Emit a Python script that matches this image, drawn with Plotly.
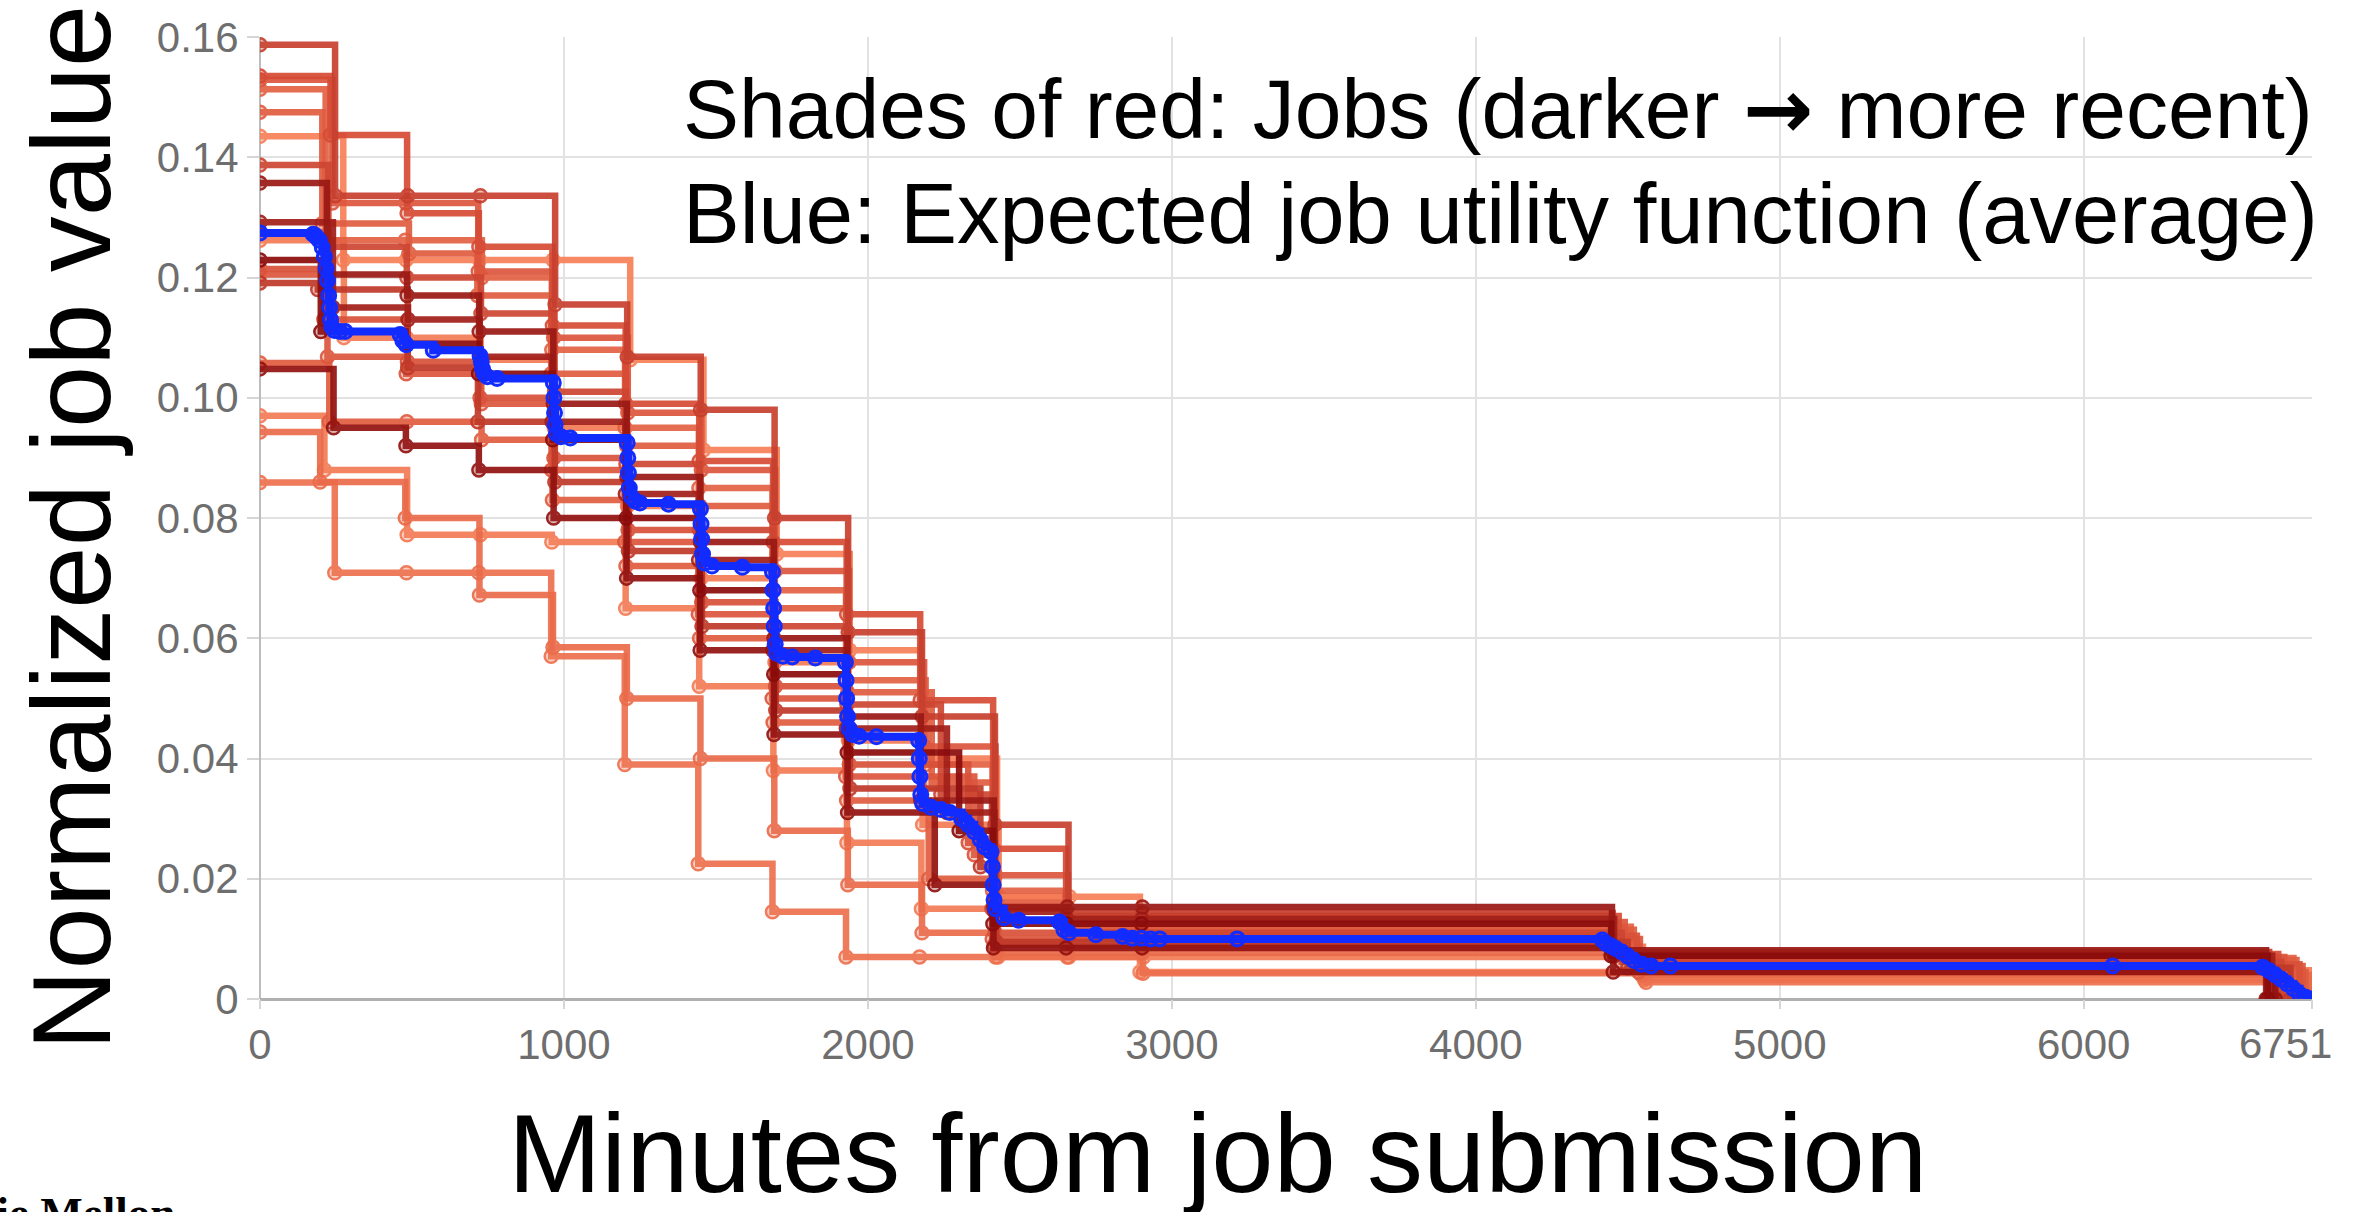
import plotly.graph_objects as go

# ---------------------------------------------------------------------------
# Per-job value curves (minutes from submission -> normalized job value).
# job_recency: 0 = oldest job, 1 = most recent job (drives the red shade).
# ---------------------------------------------------------------------------
job01_minutes = [0, 247, 486, 725, 971, 1208, 1450, 1693, 1935, 2178, 2418, 2660, 2905, 4450, 6610]
job01_value = [0.1587, 0.1336, 0.1336, 0.1336, 0.1155, 0.1068, 0.0980, 0.0800, 0.0610, 0.0470, 0.0290, 0.0143, 0.0143, 0.0078, 0.0]

job02_minutes = [0, 232, 484, 720, 962, 1203, 1445, 1688, 1930, 2172, 2412, 2652, 2900, 4470, 6640]
job02_value = [0.1535, 0.1437, 0.1307, 0.1251, 0.1120, 0.0990, 0.0895, 0.0760, 0.0640, 0.0497, 0.0250, 0.0138, 0.0138, 0.0075, 0.0]

job03_minutes = [0, 238, 480, 718, 966, 1210, 1452, 1695, 1938, 2185, 2420, 2658, 2902, 4490, 6660]
job03_value = [0.1529, 0.1324, 0.1324, 0.1210, 0.1100, 0.0975, 0.0880, 0.0712, 0.0560, 0.0420, 0.0206, 0.0128, 0.0128, 0.0070, 0.0]

job04_minutes = [0, 216, 478, 730, 960, 1201, 1444, 1686, 1928, 2190, 2410, 2650, 2898, 4510, 6690]
job04_value = [0.1513, 0.1262, 0.1262, 0.1200, 0.1080, 0.0950, 0.0850, 0.0680, 0.0530, 0.0390, 0.0180, 0.0120, 0.0120, 0.0068, 0.0]

job05_minutes = [0, 205, 490, 715, 958, 1206, 1448, 1692, 1934, 2210, 2415, 2655, 2900, 4520, 6700]
job05_value = [0.1475, 0.1290, 0.1240, 0.1170, 0.1040, 0.0920, 0.0820, 0.0650, 0.0510, 0.0360, 0.0160, 0.0115, 0.0115, 0.0065, 0.0]

job06_minutes = [0, 274, 481, 722, 964, 1218, 1459, 1700, 1940, 2175, 2425, 2663, 2895, 4555, 6751]
job06_value = [0.1435, 0.1229, 0.1229, 0.1229, 0.1229, 0.1063, 0.0913, 0.0740, 0.0580, 0.0400, 0.0170, 0.0170, 0.0045, 0.0032, 0.0]

job07_minutes = [0, 225, 483, 727, 969, 1204, 1446, 1689, 1931, 2240, 2408, 2651, 2899, 4480, 6650]
job07_value = [0.1387, 0.1251, 0.1200, 0.1140, 0.1010, 0.0890, 0.0780, 0.0620, 0.0490, 0.0340, 0.0150, 0.0110, 0.0110, 0.0062, 0.0]

job08_minutes = [0, 220, 484, 721, 965, 1207, 1449, 1691, 1933, 2174, 2414, 2656, 2903, 4448, 6600]
job08_value = [0.1357, 0.1205, 0.1170, 0.1110, 0.0990, 0.0868, 0.0760, 0.0600, 0.0470, 0.0330, 0.0153, 0.0153, 0.0153, 0.0081, 0.0]

job09_minutes = [0, 240, 487, 723, 961, 1202, 1443, 1687, 1929, 2260, 2417, 2654, 2901, 4455, 6620]
job09_value = [0.1292, 0.1150, 0.1130, 0.1068, 0.0960, 0.0840, 0.0730, 0.0580, 0.0450, 0.0310, 0.0145, 0.0133, 0.0133, 0.0072, 0.0]

job10_minutes = [0, 276, 482, 726, 968, 1209, 1451, 1694, 1936, 2180, 2430, 2660, 2908, 4550, 6751]
job10_value = [0.1262, 0.1100, 0.1100, 0.1063, 0.0950, 0.0820, 0.0700, 0.0560, 0.0430, 0.0290, 0.0170, 0.0110, 0.0087, 0.0048, 0.0]

job11_minutes = [0, 200, 479, 719, 963, 1205, 1447, 1690, 1932, 2300, 2411, 2653, 2900, 4445, 6605]
job11_value = [0.1229, 0.1110, 0.1090, 0.1040, 0.0930, 0.0800, 0.0680, 0.0540, 0.0410, 0.0280, 0.0125, 0.0125, 0.0125, 0.0072, 0.0]

job12_minutes = [0, 210, 485, 724, 967, 1211, 1453, 1696, 1939, 2330, 2419, 2657, 2904, 4530, 6710]
job12_value = [0.1214, 0.1130, 0.1060, 0.1000, 0.0900, 0.0780, 0.0660, 0.0520, 0.0390, 0.0260, 0.0110, 0.0105, 0.0105, 0.0058, 0.0]

job13_minutes = [0, 222, 481, 728, 959, 1200, 1442, 1685, 1927, 2350, 2409, 2650, 2897, 4540, 6720]
job13_value = [0.1205, 0.1068, 0.1040, 0.0990, 0.0880, 0.0760, 0.0640, 0.0500, 0.0370, 0.0240, 0.0100, 0.0100, 0.0100, 0.0055, 0.0]

job14_minutes = [0, 190, 486, 717, 970, 1212, 1454, 1697, 1941, 2370, 2422, 2662, 2906, 4500, 6680]
job14_value = [0.1191, 0.1180, 0.1050, 0.0960, 0.0860, 0.0745, 0.0620, 0.0480, 0.0350, 0.0220, 0.0095, 0.0095, 0.0095, 0.0052, 0.0]

job15_minutes = [0, 228, 483, 729, 962, 1204, 1446, 1688, 1930, 2200, 2416, 2655, 2900, 4535, 6730]
job15_value = [0.1058, 0.0960, 0.0960, 0.0930, 0.0830, 0.0720, 0.0600, 0.0460, 0.0330, 0.0200, 0.0090, 0.0088, 0.0088, 0.0045, 0.0]

job16_minutes = [0, 242, 480, 720, 966, 1206, 1448, 1691, 1933, 2220, 2413, 2652, 2902, 4452, 6630]
job16_value = [0.1048, 0.0950, 0.0920, 0.0880, 0.0800, 0.0700, 0.0580, 0.0440, 0.0310, 0.0190, 0.0085, 0.0085, 0.0085, 0.0045, 0.0]

job17_minutes = [0, 212, 484, 725, 960, 1203, 1445, 1689, 1931, 2176, 2428, 2661, 2907, 4560, 6751]
job17_value = [0.0970, 0.0880, 0.0772, 0.0772, 0.0760, 0.0650, 0.0520, 0.0380, 0.0260, 0.0150, 0.0070, 0.0070, 0.0070, 0.0035, 0.0]

job18_minutes = [0, 198, 478, 722, 964, 1207, 1449, 1692, 1934, 2178, 2424, 2658, 2903, 4545, 6740]
job18_value = [0.0943, 0.0860, 0.0800, 0.0672, 0.0585, 0.0500, 0.0400, 0.0280, 0.0190, 0.0110, 0.0077, 0.0077, 0.0077, 0.0040, 0.0]

job19_minutes = [0, 246, 482, 720, 958, 1200, 1442, 1686, 1928, 2170, 2420, 2656, 2905, 4560, 6751]
job19_value = [0.0859, 0.0709, 0.0709, 0.0709, 0.0570, 0.0390, 0.0225, 0.0145, 0.0070, 0.0070, 0.0070, 0.0070, 0.0043, 0.0028, 0.0]

job_recency = [0.60, 0.50, 0.40, 0.30, 0.35, 0.00, 0.55, 0.90, 0.85, 0.05,
               1.00, 0.45, 0.40, 0.65, 0.35, 0.95, 0.05, 0.20, 0.15]

# Expected (average) job utility function
expected_minutes = [0, 175, 185, 195, 205, 212, 218, 222, 226, 229, 232, 236, 245, 263, 280,
                    461, 470, 481, 570, 724, 728, 732, 738, 748, 780, 965, 967, 969, 971, 975,
                    990, 1021, 1208, 1210, 1212, 1215, 1222, 1235, 1250, 1344, 1449, 1451, 1453,
                    1456, 1462, 1487, 1587, 1686, 1688, 1690, 1692, 1695, 1700, 1720, 1751, 1827,
                    1926, 1928, 1930, 1933, 1938, 1950, 1971, 2028, 2167, 2169, 2171, 2174, 2180,
                    2207, 2240, 2270, 2308, 2330, 2350, 2370, 2384, 2405, 2410, 2412, 2415, 2420,
                    2447, 2496, 2630, 2645, 2661, 2750, 2838, 2870, 2900, 2930, 2960, 3215, 4416,
                    4430, 4445, 4460, 4480, 4500, 4520, 4545, 4577, 4640, 6095, 6589, 6610, 6630,
                    6650, 6670, 6690, 6710, 6730, 6751]
expected_value = [0.1274, 0.1272, 0.1268, 0.1262, 0.1250, 0.1235, 0.1215, 0.1195, 0.1170, 0.1150,
                  0.1130, 0.1118, 0.1112, 0.1110, 0.1110, 0.1105, 0.1095, 0.1088, 0.1079, 0.1070,
                  0.1060, 0.1048, 0.1040, 0.1035, 0.1032, 0.1025, 0.1000, 0.0975, 0.0955, 0.0940,
                  0.0935, 0.0933, 0.0925, 0.0900, 0.0875, 0.0850, 0.0835, 0.0828, 0.0825, 0.0823,
                  0.0815, 0.0790, 0.0765, 0.0740, 0.0725, 0.0720, 0.0718, 0.0710, 0.0680, 0.0650,
                  0.0620, 0.0590, 0.0575, 0.0570, 0.0569, 0.0567, 0.0560, 0.0530, 0.0500, 0.0470,
                  0.0450, 0.0440, 0.0437, 0.0436, 0.0430, 0.0400, 0.0370, 0.0340, 0.0325, 0.0319,
                  0.0315, 0.0310, 0.0300, 0.0290, 0.0278, 0.0265, 0.0253, 0.0245, 0.0220, 0.0190,
                  0.0165, 0.0150, 0.0135, 0.0131, 0.0128, 0.0115, 0.0110, 0.0107, 0.0104, 0.0101,
                  0.0101, 0.0100, 0.0100, 0.0100, 0.0098, 0.0092, 0.0088, 0.0084, 0.0078, 0.0071,
                  0.0064, 0.0058, 0.0055, 0.0055, 0.0055, 0.0053, 0.0047, 0.0040, 0.0033, 0.0025,
                  0.0017, 0.0008, 0.0003, 0.0]

x_tick_vals = [0, 1000, 2000, 3000, 4000, 5000, 6000, 6751]
x_tick_text = ["0", "1000", "2000", "3000", "4000", "5000", "6000", "6751"]
y_tick_vals = [0, 0.02, 0.04, 0.06, 0.08, 0.10, 0.12, 0.14, 0.16]
y_tick_text = ["0", "0.02", "0.04", "0.06", "0.08", "0.10", "0.12", "0.14", "0.16"]

jobs = [
    (job01_minutes, job01_value), (job02_minutes, job02_value), (job03_minutes, job03_value),
    (job04_minutes, job04_value), (job05_minutes, job05_value), (job06_minutes, job06_value),
    (job07_minutes, job07_value), (job08_minutes, job08_value), (job09_minutes, job09_value),
    (job10_minutes, job10_value), (job11_minutes, job11_value), (job12_minutes, job12_value),
    (job13_minutes, job13_value), (job14_minutes, job14_value), (job15_minutes, job15_value),
    (job16_minutes, job16_value), (job17_minutes, job17_value), (job18_minutes, job18_value),
    (job19_minutes, job19_value),
]

# ---------------------------------------------------------------------------
# Styling helpers
# ---------------------------------------------------------------------------
LIGHT = (247, 128, 88)
MID = (214, 76, 54)
DARK = (139, 12, 12)


def shade(r):
    """Red shade for a recency in [0, 1]: light coral (old) -> dark red (recent)."""
    if r <= 0.5:
        a, b, t = LIGHT, MID, r / 0.5
    else:
        a, b, t = MID, DARK, (r - 0.5) / 0.5
    return tuple(round(a[i] + (b[i] - a[i]) * t) for i in range(3))


FONT = "Liberation Sans, Arial, Helvetica, sans-serif"
TICK_FONT = dict(family=FONT, size=42, color="#6e6e6e")

# The last tick sits on the right edge of the page, so its label is drawn
# right-aligned to that tick instead of centred on it.
last_tick = x_tick_vals[-1]
x_tick_labels = [t if v != last_tick else "" for v, t in zip(x_tick_vals, x_tick_text)]

fig = go.Figure()

# older (lighter) jobs first, recent (darker) jobs drawn on top
order = sorted(range(len(jobs)), key=lambda i: job_recency[i])
for i in order:
    mins, vals = jobs[i]
    r, g, b = shade(job_recency[i])
    fig.add_trace(go.Scatter(
        x=mins, y=vals, mode="lines+markers",
        line=dict(shape="hv", width=6.5, color=f"rgb({r},{g},{b})"),
        marker=dict(symbol="circle", size=13,
                    color=f"rgba({r},{g},{b},0.35)",
                    line=dict(color=f"rgb({r},{g},{b})", width=2.5)),
        opacity=0.92, hoverinfo="x+y", showlegend=False,
    ))

fig.add_trace(go.Scatter(
    x=expected_minutes, y=expected_value, mode="lines+markers",
    line=dict(shape="hv", width=8, color="rgb(18,44,255)"),
    marker=dict(symbol="circle", size=14, color="rgba(18,44,255,0.25)",
                line=dict(color="rgb(18,44,255)", width=3)),
    showlegend=False,
))

axis_common = dict(
    showgrid=True, gridcolor="#e2e2e2", gridwidth=2,
    ticks="outside", tickwidth=2, tickcolor="#d6d6d6",
    tickfont=TICK_FONT, showline=False, automargin=False,
)

fig.update_layout(
    width=2357, height=1212,
    margin=dict(l=260, r=45, t=37, b=213, autoexpand=False),
    paper_bgcolor="white", plot_bgcolor="white",
    showlegend=False,
    xaxis=dict(range=[0, 6751], tickmode="array", tickvals=x_tick_vals, ticktext=x_tick_labels,
               ticklen=9, zeroline=True, zerolinecolor="#bdbdbd", zerolinewidth=2, **axis_common),
    yaxis=dict(range=[0, 0.16], tickmode="array", tickvals=y_tick_vals, ticktext=y_tick_text,
               ticklen=12, zeroline=True, zerolinecolor="#b0b0b0", zerolinewidth=3, **axis_common),
    annotations=[
        dict(text=x_tick_text[-1], xref="x", yref="paper", x=last_tick, y=-0.0465,
             xanchor="right", yanchor="middle", xshift=22, showarrow=False, font=TICK_FONT),
        dict(text="Minutes from job submission", xref="paper", yref="paper",
             x=0.4664, y=-0.1606, xanchor="center", yanchor="middle", showarrow=False,
             font=dict(family=FONT, size=112, color="black")),
        dict(text="Normalized job value", xref="paper", yref="paper", textangle=-90,
             x=-0.0919, y=0.4906, xanchor="center", yanchor="middle", showarrow=False,
             font=dict(family=FONT, size=112, color="black")),
        dict(text="Shades of red: Jobs (darker "
                  "<span style='font-family:DejaVu Sans'><b>\u2192</b></span> more recent)",
             xref="paper", yref="paper",
             x=0.2052, y=0.925, xanchor="left", yanchor="middle", showarrow=False,
             font=dict(family=FONT, size=84, color="black")),
        dict(text="Blue: Expected job utility function (average)", xref="paper", yref="paper",
             x=0.2052, y=0.817, xanchor="left", yanchor="middle", showarrow=False,
             font=dict(family=FONT, size=85, color="black")),
        dict(text="<b>Carnegie Mellon</b>", xref="paper", yref="paper",
             x=-0.0405, y=-0.1944, xanchor="right", yanchor="top", showarrow=False,
             font=dict(family="Liberation Serif, Times New Roman, serif", size=45, color="black")),
    ],
)

fig.write_html("out.html")
